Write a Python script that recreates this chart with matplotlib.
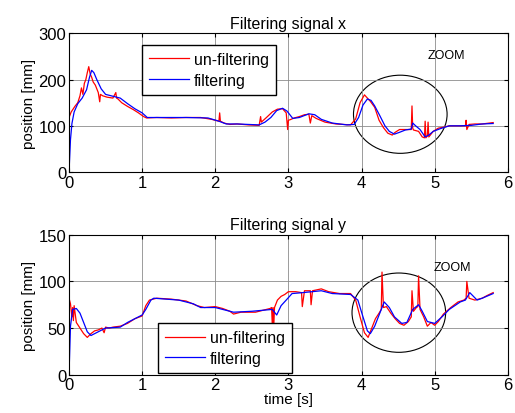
import matplotlib
matplotlib.use("Agg")
import matplotlib.pyplot as plt
from matplotlib.patches import Ellipse

plt.rcParams['font.family'] = ['Liberation Sans', 'DejaVu Sans']

# ==========================
# DATA - signal x
# ==========================
tx_raw = [0.00, 0.03, 0.08, 0.12, 0.15, 0.17, 0.19, 0.21, 0.23, 0.25, 0.27, 0.29, 0.31, 0.33,
          0.36, 0.40, 0.42, 0.43, 0.46, 0.52, 0.60, 0.64, 0.65, 0.67, 0.72, 0.80, 0.88, 0.95,
          1.02, 1.06, 1.20, 1.40, 1.60, 1.80, 1.95, 2.05, 2.06, 2.07, 2.12, 2.20, 2.30, 2.45,
          2.60, 2.62, 2.63, 2.70, 2.78, 2.85, 2.92, 2.97, 2.99, 3.00, 3.02, 3.08, 3.15, 3.22,
          3.28, 3.30, 3.32, 3.38, 3.50, 3.65, 3.85, 3.92, 3.98, 4.04, 4.08, 4.12, 4.18, 4.24,
          4.30, 4.36, 4.42, 4.46, 4.52, 4.60, 4.68, 4.69, 4.70, 4.71, 4.78, 4.83, 4.86, 4.87,
          4.88, 4.90, 4.91, 4.92, 4.94, 4.98, 5.05, 5.12, 5.20, 5.30, 5.42, 5.43, 5.44, 5.47,
          5.55, 5.65, 5.75, 5.80]
x_raw = [118, 130, 142, 150, 165, 182, 168, 192, 200, 215, 228, 212, 205, 195,
         188, 172, 152, 168, 165, 162, 160, 172, 160, 158, 150, 142, 135, 128,
         120, 117, 118, 117, 118, 118, 114, 110, 128, 110, 106, 103, 104, 102,
         101, 120, 108, 118, 130, 136, 137, 128, 92, 112, 113, 117, 120, 124,
         125, 106, 122, 116, 108, 104, 102, 115, 150, 167, 160, 153, 140, 112,
         96, 84, 80, 86, 92, 92, 92, 143, 95, 91, 88, 76, 74, 110,
         74, 78, 108, 76, 80, 88, 95, 97, 100, 100, 100, 112, 92, 103,
         104, 104, 106, 107]

tx_flt = [0.00, 0.02, 0.04, 0.07, 0.12, 0.18, 0.24, 0.28, 0.31, 0.34, 0.38, 0.44, 0.50, 0.60,
          0.70, 0.80, 0.90, 1.00, 1.07, 1.30, 1.60, 1.90, 2.05, 2.15, 2.30, 2.60, 2.68, 2.76,
          2.84, 2.92, 2.98, 3.06, 3.15, 3.28, 3.36, 3.45, 3.60, 3.80, 3.90, 3.96, 4.02, 4.08,
          4.13, 4.18, 4.25, 4.32, 4.38, 4.45, 4.52, 4.60, 4.68, 4.70, 4.74, 4.80, 4.87, 4.92,
          4.98, 5.08, 5.20, 5.35, 5.50, 5.65, 5.80]
x_flt = [0, 70, 105, 130, 148, 160, 178, 205, 220, 215, 200, 180, 168, 164,
         160, 148, 137, 128, 118, 118, 118, 117, 110, 104, 104, 102, 108, 118,
         133, 138, 132, 116, 118, 126, 124, 114, 106, 102, 103, 118, 145, 158,
         155, 143, 122, 100, 88, 82, 86, 91, 93, 106, 100, 92, 76, 80,
         88, 94, 100, 100, 101, 104, 105]

# ==========================
# DATA - signal y
# ==========================
ty_raw = [0.00, 0.02, 0.04, 0.05, 0.06, 0.07, 0.10, 0.15, 0.20, 0.25, 0.30, 0.35, 0.40, 0.45,
          0.48, 0.50, 0.55, 0.60, 0.70, 0.80, 0.90, 1.00, 1.05, 1.10, 1.20, 1.40, 1.60, 1.75,
          1.85, 2.00, 2.10, 2.20, 2.25, 2.35, 2.45, 2.55, 2.65, 2.75, 2.77, 2.78, 2.79, 2.80,
          2.81, 2.85, 2.90, 2.95, 3.00, 3.10, 3.18, 3.19, 3.22, 3.30, 3.31, 3.33, 3.45, 3.55,
          3.70, 3.85, 3.92, 3.98, 4.04, 4.09, 4.14, 4.19, 4.24, 4.27, 4.28, 4.30, 4.34, 4.40,
          4.46, 4.52, 4.58, 4.64, 4.68, 4.69, 4.71, 4.75, 4.77, 4.78, 4.80, 4.85, 4.90, 4.95,
          5.00, 5.05, 5.12, 5.22, 5.32, 5.40, 5.43, 5.44, 5.47, 5.55, 5.65, 5.72, 5.80]
y_raw = [82, 76, 62, 72, 58, 74, 56, 50, 44, 40, 44, 47, 48, 50,
         45, 51, 50, 51, 52, 55, 60, 63, 74, 80, 82, 81, 79, 74,
         72, 73, 71, 68, 65, 67, 67, 67, 69, 71, 72, 53, 72, 52,
         72, 80, 84, 86, 89, 89, 88, 73, 90, 90, 75, 90, 92, 89,
         87, 87, 80, 62, 45, 40, 50, 60, 66, 70, 110, 72, 73, 66,
         60, 55, 53, 57, 62, 90, 68, 72, 73, 106, 70, 62, 52, 56,
         53, 57, 65, 72, 78, 80, 82, 100, 82, 80, 82, 85, 88]

ty_flt = [0.00, 0.02, 0.05, 0.10, 0.15, 0.20, 0.25, 0.30, 0.40, 0.50, 0.70, 0.80, 0.90, 1.00,
          1.05, 1.12, 1.16, 1.50, 1.70, 1.80, 2.00, 2.25, 2.50, 2.78, 2.84, 2.90, 2.97, 3.05,
          3.20, 3.45, 3.60, 3.85, 3.95, 4.02, 4.08, 4.12, 4.18, 4.25, 4.31, 4.38, 4.45, 4.55,
          4.62, 4.70, 4.78, 4.83, 4.90, 5.00, 5.10, 5.20, 5.35, 5.42, 5.48, 5.58, 5.65, 5.80]
y_flt = [0, 52, 70, 71, 66, 56, 46, 42, 46, 50, 51, 56, 60, 64,
         70, 80, 82, 80, 76, 72, 72, 67, 68, 70, 64, 74, 80, 87,
         88, 90, 87, 86, 80, 62, 47, 44, 52, 66, 78, 72, 62, 55,
         56, 70, 75, 68, 57, 55, 62, 70, 78, 80, 88, 80, 82, 87]

legend_labels = ["un-filtering", "filtering"]

# ==========================
# PLOT
# ==========================
fig = plt.figure(figsize=(5.15, 4.14), dpi=100)
ax1 = fig.add_axes([0.134, 0.582, 0.852, 0.335])
ax2 = fig.add_axes([0.134, 0.0925, 0.852, 0.338])


def style_axes(ax, ymax, ystep):
    ax.set_xlim(0, 6)
    ax.set_ylim(0, ymax)
    ax.set_xticks(range(0, 7))
    ax.set_yticks(range(0, ymax + 1, ystep))
    ax.grid(True, color="0.55", linewidth=0.6)
    ax.tick_params(direction="in", length=3, labelsize=12, top=True, right=True,
                   labeltop=False, labelright=False, pad=2)
    for s in ax.spines.values():
        s.set_linewidth(0.8)


ax1.plot(tx_raw, x_raw, color="red", linewidth=0.9, label=legend_labels[0])
ax1.plot(tx_flt, x_flt, color="blue", linewidth=0.9, label=legend_labels[1])
style_axes(ax1, 300, 100)
ax1.set_title("Filtering signal x", fontsize=11.5, pad=4)
ax1.set_ylabel("position [mm]", fontsize=11, labelpad=2)
ax1.add_patch(Ellipse((4.53, 125), 1.28, 169, fill=False, edgecolor="black", linewidth=0.8))
ax1.text(4.91, 247, "ZOOM", fontsize=9)
ax1.legend(loc="upper left", bbox_to_anchor=(0.166, 0.917), fontsize=11.5, fancybox=False,
           edgecolor="black", framealpha=1, handlelength=2.5, handletextpad=0.3,
           borderpad=0.45, labelspacing=0.35, borderaxespad=0)

ax2.plot(ty_raw, y_raw, color="red", linewidth=0.9, label=legend_labels[0])
ax2.plot(ty_flt, y_flt, color="blue", linewidth=0.9, label=legend_labels[1])
style_axes(ax2, 150, 50)
ax2.set_title("Filtering signal y", fontsize=11.5, pad=4)
ax2.set_ylabel("position [mm]", fontsize=11, labelpad=2)
ax2.set_xlabel("time [s]", fontsize=11, labelpad=0)
ax2.add_patch(Ellipse((4.51, 66.5), 1.28, 85, fill=False, edgecolor="black", linewidth=0.8))
ax2.text(4.98, 112, "ZOOM", fontsize=9)
ax2.legend(loc="lower left", bbox_to_anchor=(0.203, 0.012), fontsize=11.5, fancybox=False,
           edgecolor="black", framealpha=1, handlelength=2.5, handletextpad=0.3,
           borderpad=0.45, labelspacing=0.35, borderaxespad=0)

fig.savefig("out.png", dpi=100)
